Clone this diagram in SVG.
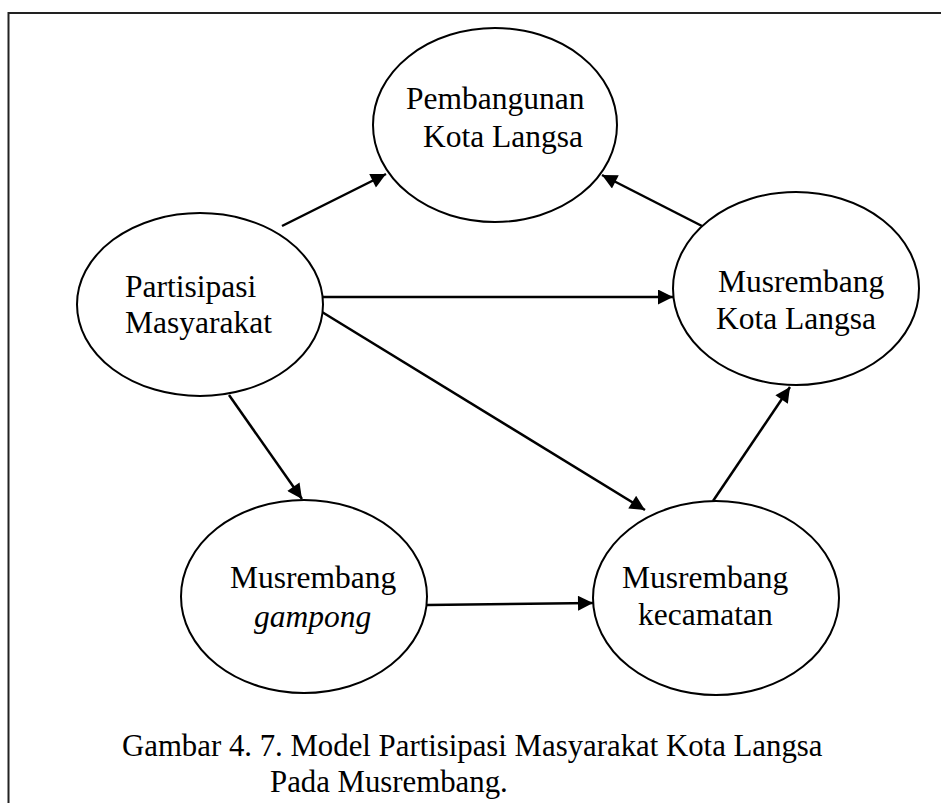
<svg xmlns="http://www.w3.org/2000/svg" width="941" height="803" viewBox="0 0 941 803">
  <style>
    .node { fill: #fff; stroke: #000; stroke-width: 2; }
    .lbl { font-family: "Liberation Serif", "Times New Roman", serif; font-size: 31.5px; fill: #000; }
    .cap { font-family: "Liberation Serif", "Times New Roman", serif; font-size: 30.8px; fill: #000; }
    .it { font-style: italic; }
    .edge { stroke: #000; stroke-width: 2.5; fill: none; marker-end: url(#head); }
  </style>
  <defs>
    <marker id="head" viewBox="0 0 10 10" refX="10" refY="5" markerWidth="7.2" markerHeight="6" markerUnits="strokeWidth" orient="auto">
      <path d="M0,0 L10,5 L0,10 z" fill="#000"/>
    </marker>
  </defs>
  <rect width="941" height="803" fill="#fff"/>
  <!-- frame: top and left edges only -->
  <path d="M8.5,820 V13 H960" fill="none" stroke="#222" stroke-width="2"/>

  <g id="connectors">
    <line class="edge" x1="282" y1="226" x2="386" y2="174"/>
    <line class="edge" x1="323" y1="297" x2="673" y2="297"/>
    <line class="edge" x1="322" y1="312" x2="645" y2="510"/>
    <line class="edge" x1="229" y1="395" x2="302" y2="499"/>
    <line class="edge" x1="427" y1="605" x2="593" y2="603"/>
    <line class="edge" x1="713" y1="501" x2="790" y2="387"/>
    <line class="edge" x1="702" y1="226" x2="602" y2="175"/>
  </g>

  <g id="pembangunan">
    <ellipse class="node" cx="495" cy="125" rx="122" ry="97"/>
    <text class="lbl" x="406" y="109">Pembangunan</text>
    <text class="lbl" x="423" y="147">Kota Langsa</text>
  </g>
  <g id="partisipasi">
    <ellipse class="node" cx="200" cy="304.5" rx="123" ry="91.5"/>
    <text class="lbl" x="125" y="297">Partisipasi</text>
    <text class="lbl" x="125" y="333">Masyarakat</text>
  </g>
  <g id="musrembang-kota">
    <ellipse class="node" cx="796" cy="288.5" rx="123" ry="96.5"/>
    <text class="lbl" x="718" y="292">Musrembang</text>
    <text class="lbl" x="716" y="329">Kota Langsa</text>
  </g>
  <g id="musrembang-gampong">
    <ellipse class="node" cx="304" cy="596.5" rx="123" ry="96.5"/>
    <text class="lbl" x="230" y="588">Musrembang</text>
    <text class="lbl it" x="254" y="627">gampong</text>
  </g>
  <g id="musrembang-kecamatan">
    <ellipse class="node" cx="716" cy="598" rx="123" ry="97"/>
    <text class="lbl" x="622" y="588">Musrembang</text>
    <text class="lbl" x="638" y="625">kecamatan</text>
  </g>

  <g id="caption">
    <text class="cap" x="122" y="756">Gambar 4. 7. Model Partisipasi Masyarakat Kota Langsa</text>
    <text class="cap" x="270" y="792">Pada Musrembang.</text>
  </g>
</svg>
